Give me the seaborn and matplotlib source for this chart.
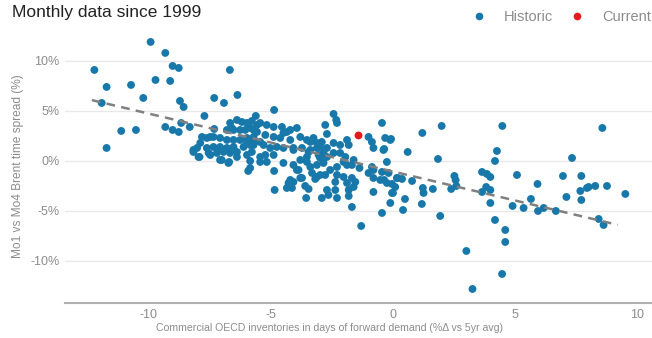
import matplotlib
matplotlib.use("Agg")
import matplotlib.pyplot as plt
from matplotlib.lines import Line2D
import numpy as np
import pandas as pd
import seaborn as sns

# Inventory deviation (days of forward demand, % vs 5yr avg) for each month
hist_x = [
    -12.2, -9.9, -9.3, -9.0, -8.75, -6.66, -11.7, -10.7, -9.7, -9.1, -10.2, -11.9, -8.7, -8.55,
    -7.3, -6.9, -6.35, -7.7, -5.6, -11.1, -10.5, -9.3, -9.0, -8.75, -8.65, -8.3, -11.7, -7.3,
    -6.65, -6.37, -6.17, -5.96, -5.76, -5.55, -6.78, -6.51, -6.24, -6.03, -5.69,
    -7.8, -7.6, -7.33, -7.06, -6.78, -6.51, -6.24, -5.96, -5.69,
    -8.0, -7.6, -7.33, -7.06, -6.78, -6.51, -6.1, -5.83,
    -8.15, -7.9, -7.46, -7.19, -6.92, -6.65, -6.37, -5.76,
    -6.99, -6.69, -5.83, -5.42, -5.91,
    -4.85, -5.42, -5.15, -4.87, -4.53, -4.33, -3.92,
    -5.21, -4.87, -4.6, -4.19, -3.78, -3.51, -3.24, -2.9, -2.76, -2.69,
    -5.28, -5.01, -4.74, -4.47, -4.06, -3.71, -3.44, -3.1, -2.83,
    -5.21, -4.87, -5.42, -5.15, -5.83, -4.85,
    -4.47, -4.06, -3.85, -3.51, -3.37, -3.1, -2.83,
    -3.3, -2.97, -2.76, -3.71, -3.17, -4.26, -4.06, -3.58, -4.33, -3.44, -4.83, -3.54, -2.9, -2.63,
    -7.87, -8.15, -7.94, -6.72, -6.58, -5.83, -5.55, -7.46, -5.96, -5.69, -5.96, -6.37, -7.53, -5.42, -5.69,
    -2.42, -2.31, -2.28, -0.44,
    -0.99, -0.85, -0.31, -0.1, -1.87, -2.15, -1.8, -2.42,
    -0.79, -0.38, -2.69, -2.97,
    -2.42, -2.15, -1.94, -1.6, -2.69, -2.97, -2.01, -1.67, -1.36, -0.85, -0.79, -0.99, -0.24, -0.44,
    -0.17, 0.17, -0.03,
    -1.87, -2.28, -2.56, -3.1, -2.28, -2.01, -1.67, -2.35, -1.87, -1.53, -0.79, -0.51,
    -2.69, -2.35, -1.8, -1.6, -2.28, -1.8, -1.67, -0.79, -0.03, -0.1,
    -4.47, -4.19, -3.37, -3.1, -4.06, -3.37, -3.03, -3.51, -3.78, -3.92, -3.78, -4.19, -4.12, -7.06,
    -0.07, -0.35, 1.21, 2.0, 0.61, 1.85, 4.48, 4.26, 4.18, 8.57, 7.33,
    -0.35, -0.24, 0.2, 0.38, 0.1, 0.01, 0.79, 1.23, 1.26, 1.64, 1.19, 0.5, 0.42,
    2.52, 2.57, 2.39, 2.6, 3.65, 3.85, 3.99, 3.82, 3.65, 3.99, 3.99, 5.08, 5.92, 5.65,
    4.9, 5.35, 6.17, 6.96, 7.71, 7.1, 7.67, 7.71, 8.01, 8.28, 8.76, 9.51,
    -1.29, -0.44, 1.94, 3.01, 3.26, 4.47, 4.6, 4.6, 4.18, 5.94, 6.67, 7.94, 8.42, 8.62,
]

# Mo1 vs Mo4 Brent time spread (%) for the same months
hist_y = [
    9.1, 11.9, 10.8, 9.5, 9.3, 9.1, 7.4, 7.6, 8.1, 8.0, 6.3, 5.8, 6.0, 5.4,
    6.3, 5.8, 6.6, 4.5, 4.5, 3.0, 3.1, 3.4, 3.1, 2.9, 3.8, 3.4, 1.3, 3.2,
    3.8, 4.1, 3.9, 3.8, 4.0, 3.6, 3.1, 3.1, 3.1, 3.1, 3.1,
    2.4, 2.3, 2.4, 2.3, 2.1, 2.1, 2.1, 2.3, 2.1,
    1.3, 1.3, 1.4, 1.4, 1.3, 1.4, 1.4, 1.6,
    0.9, 0.4, 0.6, 0.8, 0.9, 0.8, 0.9, 0.9,
    0.1, -0.1, 0.0, -0.1, -1.0,
    5.1, 3.8, 3.6, 3.4, 3.4, 2.9, 3.3,
    2.6, 2.4, 2.3, 2.1, 2.4, 2.1, 2.3, 1.9, 3.6, 2.7,
    1.6, 1.3, 1.4, 1.3, 1.3, 1.3, 0.9, 1.3, 0.8,
    0.6, 0.6, 0.4, -0.1, -0.7, -1.0,
    -0.2, -0.4, -0.9, -0.1, -0.6, -0.4, -0.2,
    -1.2, -1.4, -1.4, -1.7, -1.8, -2.2, -2.1, -2.5, -2.7, -2.8, -2.9, -3.7, -3.7, -3.4,
    1.8, 1.1, 0.4, -0.2, 3.3, 3.3, 2.9, 2.4, 1.9, 1.6, 0.6, 0.4, 0.8, 1.9, 2.4,
    4.7, 4.1, 3.8, 3.8,
    2.4, 1.9, 2.3, 2.1, 2.1, 1.6, 1.6, 1.8,
    1.3, 1.1, 1.3, 1.4,
    0.8, 0.8, 0.4, 0.1, 0.4, 0.3, -0.1, -0.4, -0.7, -0.6, -0.9, -1.2, -0.1, -1.1,
    -1.2, -1.7, -2.3,
    -0.4, -0.6, -0.9, -1.6, -1.4, -1.6, -1.7, -2.1, -2.2, -2.1, -1.7, -1.9,
    -2.9, -2.9, -2.9, -2.6, -3.7, -3.5, -4.6, -3.1, -3.2, -4.2,
    2.8, 3.1, 1.9, 1.8, 1.1, 1.1, 0.6, 0.4, 0.1, -0.9, -1.7, -1.9, -2.7, 0.1,
    2.2, 1.2, 2.8, 3.5, 0.9, 0.2, 3.5, 1.0, 0.0, 3.3, 0.3,
    -1.9, -2.2, -1.7, -1.8, -2.6, -3.2, -2.0, -2.7, -3.2, -2.8, -4.3, -3.8, -4.9,
    -1.5, -1.9, -2.8, -2.5, -1.1, -1.3, -1.6, -2.6, -3.1, -2.9, -4.2, -1.4, -2.3, -3.8,
    -4.5, -4.7, -4.7, -1.5, -1.5, -3.6, -3.0, -3.9, -2.6, -2.5, -2.5, -3.3,
    -6.5, -5.2, -5.5, -9.0, -12.8, -11.3, -8.1, -6.9, -5.9, -5.0, -5.0, -2.7, -5.8, -6.4,
]

# Latest month
curr_x = [-1.40]
curr_y = [2.55]

# Linear trend through the monthly history
trend_slope = -0.58
trend_intercept = -1.05
trend_x = [-12.3, 9.2]

series_names = ["Historic", "Current"]
series_colors = ["#1878aa", "#e41a1c"]

yticks = [-10, -5, 0, 5, 10]
xticks = [-10, -5, 0, 5, 10]

df = pd.DataFrame({
    "x": hist_x + curr_x,
    "y": hist_y + curr_y,
    "series": [series_names[0]] * len(hist_x) + [series_names[1]] * len(curr_x),
})
trend = pd.DataFrame({"x": trend_x})
trend["y"] = trend_intercept + trend_slope * trend["x"]

sns.set_theme(style="white")
plt.rcParams["font.family"] = ["Liberation Sans", "DejaVu Sans"]

grey = "#8c8c8c"
fig = plt.figure(figsize=(6.52, 3.38), dpi=100)
ax = fig.add_axes([0.0997, 0.1036, 0.9003, 0.793])

sns.scatterplot(data=df, x="x", y="y", hue="series", hue_order=series_names,
                palette=series_colors, s=32, linewidth=0, ax=ax, legend=False, zorder=3)

sns.lineplot(data=trend, x="x", y="y", ax=ax, color="#808080", linewidth=1.8,
             linestyle=(0, (3.5, 2.5)), zorder=4)

ax.set_xlim(-13.4, 10.6)
ax.set_ylim(-14.2, 12.6)
ax.set_xticks(xticks)
ax.set_xticklabels([f"{t}" for t in xticks])
ax.set_yticks(yticks)
ax.set_yticklabels([f"{t}%" for t in yticks])
ax.tick_params(axis="both", length=0, labelsize=9, colors=grey, pad=4)
ax.grid(axis="y", color="#e8e8e8", linewidth=1.0)
ax.grid(axis="x", visible=False)
for side in ["top", "right", "left"]:
    ax.spines[side].set_visible(False)
ax.spines["bottom"].set_color("#b0b0b0")
ax.spines["bottom"].set_linewidth(1.5)

ax.set_xlabel("Commercial OECD inventories in days of forward demand (%\u0394 vs 5yr avg)",
              fontsize=7.6, color=grey)
ax.xaxis.set_label_coords(0.451, -0.075)
ax.set_ylabel("Mo1 vs Mo4 Brent time spread (%)", fontsize=8.6, color=grey)
ax.yaxis.set_label_coords(-0.070, 0.51)

fig.text(0.018, 0.962, "Monthly data since 1999", fontsize=12.5, color="#222222",
         ha="left", va="center")

handles = [Line2D([], [], marker="o", linestyle="", markersize=5.5, markerfacecolor=c,
                  markeredgewidth=0) for c in series_colors]
fig.legend(handles, series_names, loc="upper right", bbox_to_anchor=(1.012, 0.995), ncol=2,
           frameon=False, fontsize=10.5, labelcolor=grey, handletextpad=0.7,
           columnspacing=0.65, borderaxespad=0.2)

fig.savefig("out.png", dpi=100)
